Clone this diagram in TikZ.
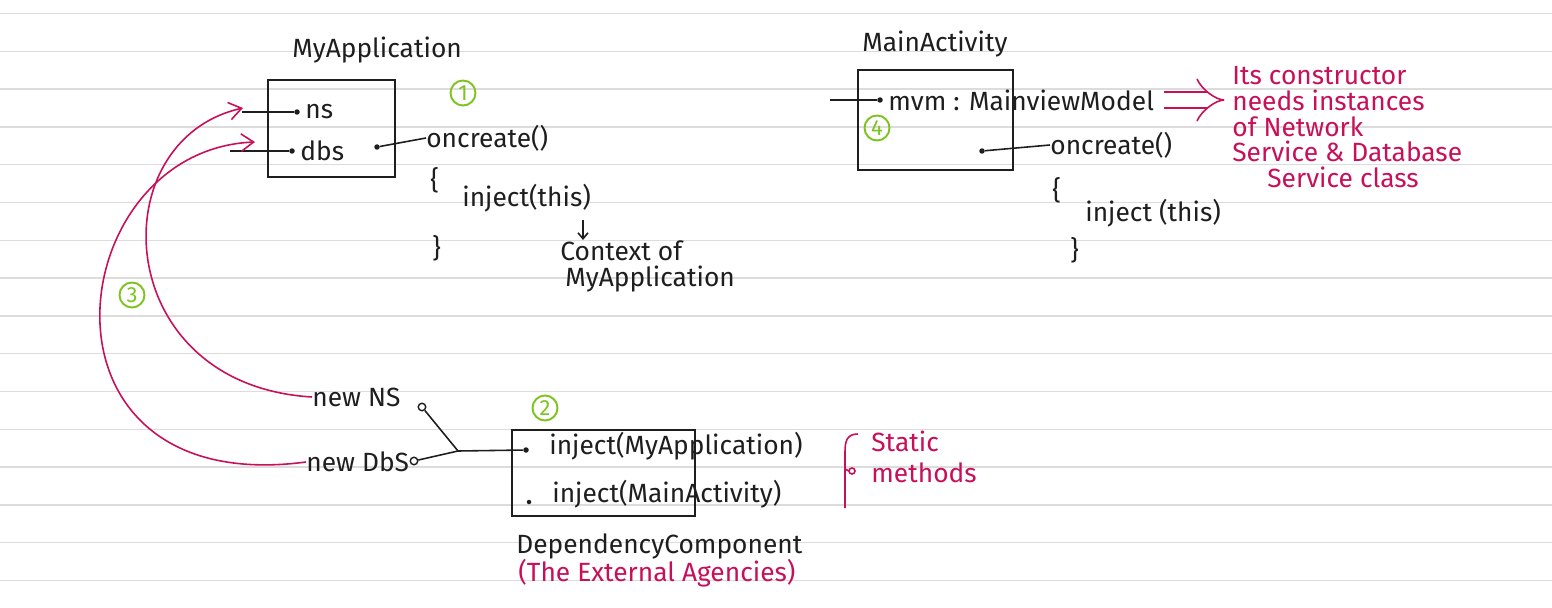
\documentclass[tikz,border=0pt]{standalone}
\usepackage{fontspec}
\setmainfont{Fira Sans}
\usetikzlibrary{arrows.meta,positioning}
\definecolor{ink}{HTML}{1E1E1E}
\definecolor{rose}{HTML}{C8105A}
\definecolor{leaf}{HTML}{7CC41F}
\definecolor{rule}{HTML}{DCDCDC}

\begin{document}
\begin{tikzpicture}[x=0.02cm,y=-0.02cm]
\tikzstyle{pen}=[ink, line width=0.9pt]
\tikzstyle{redpen}=[rose, line width=0.9pt]
\tikzstyle{txt}=[text=ink, anchor=west, inner sep=0pt, font=\fontsize{15}{15}\selectfont]
\tikzstyle{redtxt}=[txt, text=rose]
\tikzstyle{classbox}=[draw=ink, line width=0.9pt, inner sep=0pt]
\tikzstyle{dot}=[circle, fill=ink, inner sep=0pt, minimum size=1.1mm]
\tikzstyle{ring}=[circle, draw=ink, line width=0.8pt, inner sep=0pt, minimum size=1.5mm]
\tikzstyle{num}=[circle, draw=leaf, text=leaf, line width=1.1pt, inner sep=0pt, minimum size=5mm, font=\fontsize{12.5}{12.5}\selectfont]
\tikzstyle{barb}=[-{Straight Barb[length=2.5mm, width=3.5mm]}]

% Paper
\fill[white] (0,0) rectangle (1552,608);
\useasboundingbox (0,0) rectangle (1552,608);
\foreach \k in {0,...,15}
\draw[rule, line width=0.8pt] (0,13.5+37.8*\k) -- (1552,13.5+37.8*\k);

% MyApplication
\node[txt] (apptitle) at (292,50) {MyApplication};
\node[classbox, minimum width=2.54cm, minimum height=1.94cm] (app) at (331.5,128.5) {};
\node[dot] (nsdot) at (297,112) {};
\node[txt, right=1mm of nsdot] (ns) {ns};
\coordinate (nsin) at (242,112);
\draw[pen] (nsin) -- (nsdot);
\node[dot] (dbsdot) at (292,151) {};
\node[txt, right=1mm of dbsdot] (dbs) {dbs};
\coordinate (dbsin) at (230,151);
\draw[pen] (dbsin) -- (dbsdot);
\node[dot] (appocdot) at (377,147) {};
\node[txt] (appoc) at (426,138) {oncreate()};
\draw[pen] (appocdot) -- (appoc.west);
\node[num] (n1) at (463,93) {1};
\node[txt] (appopen) at (430,180) {\{};
\node[txt] (appinj) at (462,198) {inject(this)};
\node[txt] (appclose) at (432,248) {\}};
\node[txt, align=left, anchor=north west] (ctx) at (560,240) {Context of\\\hspace*{1mm}MyApplication};
\coordinate (ctxarr) at (583,220);
\draw[pen, -{Straight Barb[length=1.2mm, width=2mm]}] (ctxarr) -- (ctxarr |- ctx.north);

% MainActivity
\node[txt] (mactitle) at (862,44) {MainActivity};
\node[classbox, minimum width=3.1cm, minimum height=2cm] (mact) at (935.5,120) {};
\node[dot] (mvmdot) at (880,100) {};
\node[txt, right=1mm of mvmdot] (mvm) {mvm : MainviewModel};
\coordinate (mvmin) at (830,100);
\draw[pen] (mvmin) -- (mvmdot);
\node[num] (n4) at (877,128) {4};
\node[dot] (macocdot) at (982,151) {};
\node[txt] (macoc) at (1050,145) {oncreate()};
\draw[pen] (macocdot) -- (macoc.west);
\node[txt] (macopen) at (1052,190) {\{};
\node[txt] (macinj) at (1085,213) {inject (this)};
\node[txt] (macclose) at (1070,250) {\}};

% note on the view model
\node[redtxt, align=left, anchor=north west, font=\fontsize{15}{14.7}\selectfont] (its) at (1232,66) {Its constructor\\needs instances\\of Network\\Service \& Database\\\hspace*{7mm}Service class};
\draw[rose, line width=0.9pt, double distance=8pt, -{Implies}, shorten <=2mm, shorten >=1.5mm] (mvm.east) -- (its.west |- mvm.east);

% DependencyComponent
\node[num] (n2) at (545,408) {2};
\node[classbox, minimum width=3.66cm, minimum height=1.72cm] (dc) at (603.5,473) {};
\node[dot] (inj1dot) at (526,450) {};
\node[txt] (inj1) at (549,446) {inject(MyApplication)};
\node[dot, minimum size=0.9mm] (inj2dot) at (529,502) {};
\node[txt] (inj2) at (552,494) {inject(MainActivity)};
\node[txt] (dctitle) at (516,546) {DependencyComponent};
\node[redtxt] (agencies) at (518,573) {(The External Agencies)};

% brace -> static methods
\draw[redpen] (858,434) .. controls (847,434) and (845,441) .. (845,452) -- (845,508);
\draw[redpen] (845,469) -- (849,471);
\draw[redpen] (852,471) circle (3);
\node[redtxt, align=left, font=\fontsize{15}{17.5}\selectfont] (static) at (871,457) {Static\\methods};

% new NS / new DbS -> inject(MyApplication)
\node[txt] (newns) at (312,397) {new NS};
\node[txt] (newdbs) at (306,462) {new DbS};
\node[ring] (nsring) at (422,407) {};
\node[ring] (dbsring) at (414,461) {};
\coordinate (join) at (458,451);
\draw[pen] (nsring) -- (join);
\draw[pen] (dbsring) -- (join) -- (inj1dot);

% injected back into MyApplication
\coordinate (nsarr) at (243,108);
\coordinate (dbsarr) at (255,142);
\draw[redpen, barb] (newns.west) .. controls (110,385) and (100,140) .. (nsarr);
\draw[redpen, barb] (newdbs.west) .. controls (20,500) and (60,150) .. (dbsarr);
\node[num] (n3) at (132,295) {3};
\end{tikzpicture}
\end{document}
